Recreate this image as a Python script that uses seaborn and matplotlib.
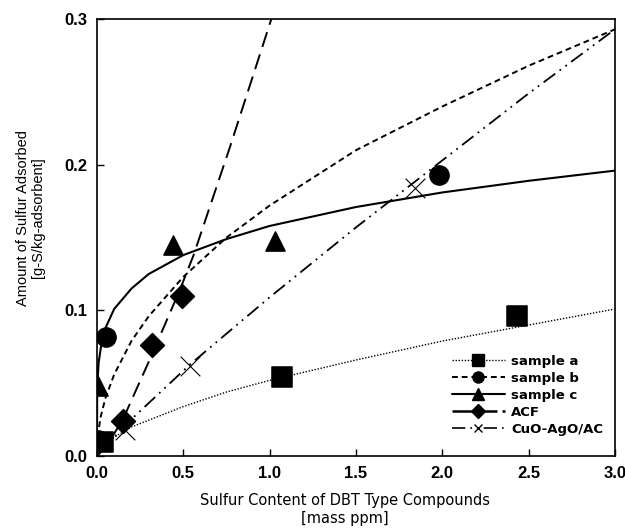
import numpy as np
import pandas as pd
import seaborn as sns
import matplotlib
import matplotlib.pyplot as plt
from matplotlib.lines import Line2D

matplotlib.use('Agg')

# measured points (mass ppm, g-S/kg-adsorbent)
a_x = [0.035, 1.07, 2.43]
a_y = [0.010, 0.054, 0.096]
b_x = [0.005, 0.05, 1.98]
b_y = [0.011, 0.082, 0.193]
c_x = [0.005, 0.44, 1.03]
c_y = [0.048, 0.145, 0.148]
acf_x = [0.15, 0.32, 0.49]
acf_y = [0.024, 0.076, 0.110]
cuo_x = [0.16, 0.54, 1.84]
cuo_y = [0.018, 0.062, 0.184]

# fitted curves
a_fit_x = [0.0, 0.05, 0.1, 0.2, 0.35, 0.5, 0.75, 1.0, 1.25, 1.5, 2.0, 2.5, 3.0]
a_fit_y = [0.0, 0.009, 0.013, 0.020, 0.027, 0.034, 0.044, 0.052, 0.059, 0.066, 0.079, 0.090, 0.101]
b_fit_x = [0.0, 0.005, 0.02, 0.05, 0.1, 0.2, 0.3, 0.5, 0.75, 1.0, 1.5, 2.0, 2.5, 3.0]
b_fit_y = [0.0, 0.013, 0.026, 0.040, 0.056, 0.079, 0.096, 0.123, 0.150, 0.172, 0.210, 0.240, 0.268, 0.293]
c_fit_x = [0.0, 0.002, 0.01, 0.03, 0.05, 0.1, 0.2, 0.3, 0.5, 0.75, 1.0, 1.5, 2.0, 2.5, 3.0]
c_fit_y = [0.0, 0.047, 0.064, 0.080, 0.088, 0.101, 0.115, 0.125, 0.138, 0.149, 0.158, 0.171, 0.181, 0.189, 0.196]
acf_fit_x = [0.0, 0.05, 0.15, 0.32, 0.48, 0.56, 0.77, 1.01]
acf_fit_y = [0.0, 0.006, 0.025, 0.070, 0.114, 0.138, 0.212, 0.300]
cuo_fit_x = [0.0, 0.17, 0.54, 1.0, 1.5, 2.0, 2.5, 3.0]
cuo_fit_y = [0.0, 0.022, 0.063, 0.109, 0.157, 0.203, 0.249, 0.293]

labels = ['sample a', 'sample b', 'sample c', 'ACF', 'CuO-AgO/AC']

sns.set_style("ticks")
plt.rcParams['font.family'] = ['DejaVu Sans']
plt.rcParams['text.color'] = 'black'
plt.rcParams['axes.labelcolor'] = 'black'
plt.rcParams['xtick.color'] = 'black'
plt.rcParams['ytick.color'] = 'black'

fig = plt.figure(figsize=(6.25, 5.31), dpi=100)
ax = fig.add_axes([0.155, 0.141, 0.829, 0.823])

sns.lineplot(x=a_fit_x, y=a_fit_y, ax=ax, color='black', lw=1.0, linestyle=(0, (1, 1.2)))
sns.lineplot(x=b_fit_x, y=b_fit_y, ax=ax, color='black', lw=1.4, linestyle=(0, (3, 2)))
sns.lineplot(x=c_fit_x, y=c_fit_y, ax=ax, color='black', lw=1.5, linestyle='-')
sns.lineplot(x=acf_fit_x, y=acf_fit_y, ax=ax, color='black', lw=1.4, linestyle=(0, (8, 4)))
sns.lineplot(x=cuo_fit_x, y=cuo_fit_y, ax=ax, color='black', lw=1.3, linestyle=(0, (8, 3, 1, 3, 1, 3)))

sns.scatterplot(x=a_x, y=a_y, ax=ax, marker='s', s=200, color='black', edgecolor='black', zorder=5)
sns.scatterplot(x=b_x, y=b_y, ax=ax, marker='o', s=190, color='black', edgecolor='black', zorder=5)
sns.scatterplot(x=c_x, y=c_y, ax=ax, marker='^', s=190, color='black', edgecolor='black', zorder=5)
sns.scatterplot(x=acf_x, y=acf_y, ax=ax, marker='D', s=150, color='black', edgecolor='black', zorder=5)
sns.scatterplot(x=cuo_x, y=cuo_y, ax=ax, marker='x', s=200, color='black', linewidth=0.8, zorder=5)

ax.set_xlim(0, 3.0)
ax.set_ylim(0, 0.3)
ax.set_xticks([0.0, 0.5, 1.0, 1.5, 2.0, 2.5, 3.0])
ax.set_yticks([0.0, 0.1, 0.2, 0.3])
ax.xaxis.set_major_formatter(matplotlib.ticker.FormatStrFormatter('%.1f'))
ax.yaxis.set_major_formatter(matplotlib.ticker.FormatStrFormatter('%.1f'))
ax.tick_params(direction='in', length=5, width=1, labelsize=12, pad=7)
for lab in ax.get_xticklabels() + ax.get_yticklabels():
    lab.set_fontweight('bold')
    lab.set_family(['Liberation Sans Narrow', 'Liberation Sans'])
for sp in ax.spines.values():
    sp.set_color('black')
    sp.set_linewidth(1.2)

ax.set_xlabel('Sulfur Content of DBT Type Compounds\n[mass ppm]', fontsize=10.5)
ax.set_ylabel('Amount of Sulfur Adsorbed\n[g-S/kg-adsorbent]', fontsize=10.5,
              family=['Liberation Sans Narrow', 'Liberation Sans'], linespacing=1.1)
ax.xaxis.set_label_coords(0.478, -0.085)
ax.yaxis.set_label_coords(-0.10, 0.545)

handles = [
    Line2D([], [], color='black', lw=1.0, linestyle=(0, (1, 1.2)), marker='s', markersize=8),
    Line2D([], [], color='black', lw=1.4, linestyle=(0, (3, 2)), marker='o', markersize=8),
    Line2D([], [], color='black', lw=1.5, linestyle='-', marker='^', markersize=8),
    Line2D([], [], color='black', lw=1.8, linestyle=(0, (8, 2)), marker='D', markersize=7),
    Line2D([], [], color='black', lw=1.2, linestyle=(0, (8, 3, 1, 3, 1, 3)), marker='x', markersize=6),
]
ax.legend(handles, labels, loc='lower right', frameon=False,
          handlelength=4, labelspacing=0.3, handletextpad=0.5,
          bbox_to_anchor=(1.0, 0.02), prop={'weight': 'bold', 'size': 9.5})

plt.savefig('out.png', dpi=100)
